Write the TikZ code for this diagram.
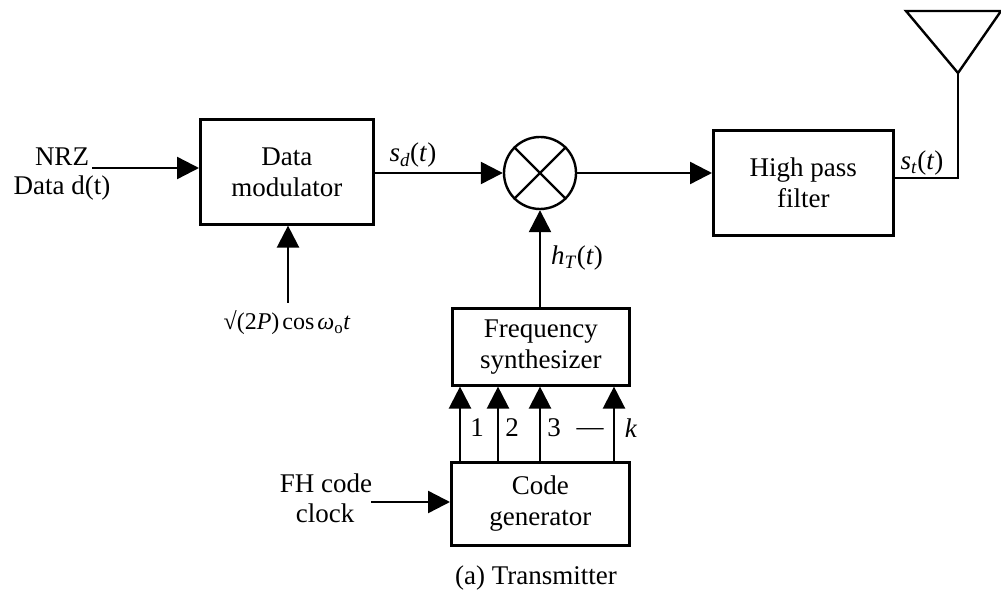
\documentclass[tikz,border=0pt]{standalone}
\usepackage{fontspec}
\setmainfont{Liberation Serif}
\usetikzlibrary{arrows.meta}
\tikzset{
  x=1pt,y=-1pt,
  every node/.style={font=\fontsize{27}{31}\selectfont},
  blockbox/.style={draw,line width=2.6pt,inner sep=0pt,align=center,anchor=north west},
  wire/.style={line width=2.4pt},
  arr/.style={wire,-{Triangle[length=22pt,width=22pt]}},
  lab/.style={inner sep=0pt,align=center}
}
\begin{document}
\begin{tikzpicture}
\useasboundingbox (0,0) rectangle (1001,593);
% blocks
\node[blockbox,minimum width=173pt,minimum height=105pt] (dm) at (199,118) {Data\\modulator};
\node[blockbox,minimum width=180pt,minimum height=105pt] (hp) at (712,129) {High pass\\filter};
\node[blockbox,minimum width=177pt,minimum height=77pt] (fs) at (451,307) {Frequency\\synthesizer};
\node[blockbox,minimum width=178pt,minimum height=83pt] (cg) at (450,461) {Code\\generator};
\node[draw,circle,line width=2.4pt,minimum size=72pt,inner sep=0pt] (mx) at (540,173) {};
\draw[wire] (mx.45) -- (mx.225);
\draw[wire] (mx.135) -- (mx.315);
% antenna
\coordinate (tl) at (906,11);
\coordinate (tr) at (1001,11);
\coordinate (ta) at (958,73);
\coordinate (bend) at (958,178);
\draw[wire,line join=miter] (tr) -- (tl) -- (ta) -- cycle;
\draw[wire] (ta) -- (bend) -- (bend -| hp.east);
% free ends
\coordinate (nrzs) at (92,168);
\coordinate (coss) at (288,303);
\coordinate (fhs) at (371,502);
\coordinate (a1) at (460,461);
\coordinate (a2) at (498,461);
\coordinate (a3) at (540,461);
\coordinate (a4) at (614,461);
% connectors
\draw[arr] (nrzs) -- (nrzs -| dm.west);
\draw[arr] (mx.west -| dm.east) -- (mx.west);
\draw[arr] (mx.east) -- (mx.east -| hp.west);
\draw[arr] (coss) -- (coss |- dm.south);
\draw[arr] (mx |- fs.north) -- (mx.south);
\draw[arr] (fhs) -- (fhs -| cg.west);
\draw[arr] (a1) -- (a1 |- fs.south);
\draw[arr] (a2) -- (a2 |- fs.south);
\draw[arr] (a3) -- (a3 |- fs.south);
\draw[arr] (a4) -- (a4 |- fs.south);
% labels
\node[lab] (l1) at (62,157) {NRZ};
\node[lab] (l2) at (62,188) {Data d(t)};
\node[lab] (l3) at (413,155) {\emph{s}\textsubscript{\emph{d}}(\emph{t})};
\node[lab] (l4) at (922,163) {\emph{s}\textsubscript{\emph{t}}(\emph{t})};
\node[lab] (l5) at (577,258) {\emph{h}\textsubscript{\emph{T}}(\emph{t})};
\node[lab,font=\fontsize{24}{31}\selectfont] (l6) at (287,323) {√(2\emph{P})\hspace{3pt}cos\hspace{3pt}\emph{ω}\textsubscript{o}\emph{t}};
\node[lab] (l7) at (477,428) {1};
\node[lab] (l8) at (512,428) {2};
\node[lab] (l9) at (554,428) {3};
\node[lab] (l10) at (590,432) {---};
\node[lab] (l11) at (631,428) {\emph{k}};
\node[lab] (l12) at (326,483) {FH code};
\node[lab] (l13) at (325,513) {clock};
\node[lab] (l14) at (536,578) {(a) Transmitter};
\end{tikzpicture}
\end{document}
